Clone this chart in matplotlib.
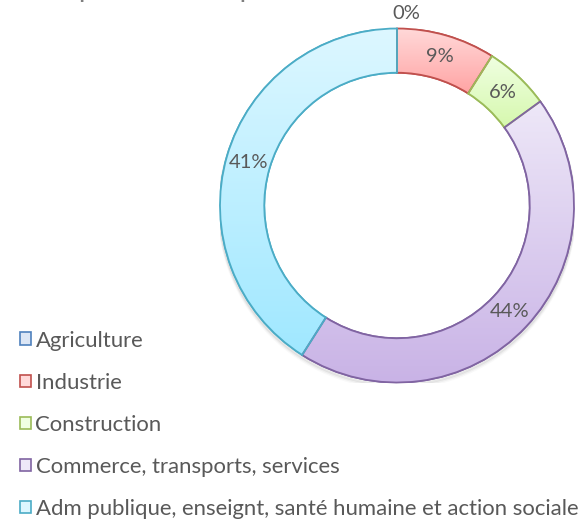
import matplotlib.pyplot as plt
import numpy as np
from matplotlib.colors import LinearSegmentedColormap
from matplotlib.patches import Patch, Wedge

plt.rcParams['font.family'] = ['Lato', 'DejaVu Sans']

# Data
categories = [
    "Agriculture",
    "Industrie",
    "Construction",
    "Commerce, transports, services",
    "Adm publique, enseignt, santé humaine et action sociale",
]
values = [0, 9, 6, 44, 41]
pct_labels = ["0%", "9%", "6%", "44%", "41%"]

# Excel-ish styling
edge_colors = ["#4F81BD", "#C0504D", "#9BBB59", "#8064A2", "#4BACC6"]
top_colors = ["#DCE6F5", "#FFD9D9", "#F0FFE2", "#EEE8F8", "#DDF7FF"]
bottom_colors = ["#B8CCEB", "#FFA4A4", "#D6F8AE", "#C9B3E6", "#A0E8FF"]
text_color = "#595959"

W, H = 582, 528
cx, cy, R = 397, 205.5, 177  # ring centre and outer radius, in pixels

fig = plt.figure(figsize=(W / 100, H / 100), dpi=100)
ax = fig.add_axes([(cx - R) / W, (H - cy - R) / H, 2 * R / W, 2 * R / H])

ring = 0.25
wedges, _ = ax.pie(
    values,
    startangle=90,
    counterclock=False,
    radius=1,
    wedgeprops=dict(width=ring, linewidth=1.3),
)

# soft shadow under the ring
for k, a in enumerate([0.06, 0.04, 0.025]):
    sh = plt.Circle((0, -0.012 - k * 0.006), 1.0 + k * 0.002, fill=False,
                    lw=2.5, color="black", alpha=a, zorder=0.5)
    ax.add_patch(sh)

grad = np.linspace(0, 1, 256).reshape(-1, 1)
for w, ec, c1, c2 in zip(wedges, edge_colors, top_colors, bottom_colors):
    w.set_edgecolor(ec)
    w.set_facecolor(c2)
    w.set_zorder(2)
    if w.theta2 - w.theta1 < 1e-6:
        continue
    bb = w.get_path().get_extents()
    cmap = LinearSegmentedColormap.from_list("g", [c1, c2])
    im = ax.imshow(grad, cmap=cmap, extent=[bb.x0, bb.x1, bb.y0, bb.y1],
                   origin="upper", aspect="auto", zorder=2.5,
                   interpolation="bilinear")
    im.set_clip_path(w)
    ax.add_patch(Wedge(w.center, w.r, w.theta1, w.theta2, width=ring,
                       facecolor="none", edgecolor=ec, lw=1.3, zorder=3))

# percentage labels in the middle of the ring
total = sum(values)
start = 90.0
mid_r = 1 - ring / 2
for v, lab in zip(values, pct_labels):
    ang = np.deg2rad(start - 360 * v / total / 2)
    start -= 360 * v / total
    if v == 0:
        ax.annotate(lab, (np.cos(ang), np.sin(ang)),
                    xytext=(7, 4.5), textcoords="offset points",
                    ha="center", va="bottom", fontsize=14.5, color=text_color)
    else:
        ax.text(np.cos(ang) * mid_r, np.sin(ang) * mid_r, lab,
                ha="center", va="center", fontsize=14.5, color=text_color,
                zorder=5)

ax.set_xlim(-1, 1)
ax.set_ylim(-1, 1)
ax.set_aspect("equal")
ax.axis("off")

# partially visible title cut by the top edge
fig.text(40 / W, 1 + 3 / H, "Emplois salariés par secteur", fontsize=20,
         color="#7F7F7F", ha="left", va="baseline")

handles = [Patch(facecolor=fc, edgecolor=ec, lw=1.2)
           for fc, ec in zip(top_colors, edge_colors)]
fig.legend(handles, categories, loc="lower left",
           bbox_to_anchor=(9 / W, -2 / H), frameon=False,
           fontsize=15.9, labelcolor=text_color,
           handlelength=0.5, handleheight=0.5, handletextpad=0.2,
           labelspacing=1.0, borderpad=0)

fig.savefig("out.png", dpi=100)
